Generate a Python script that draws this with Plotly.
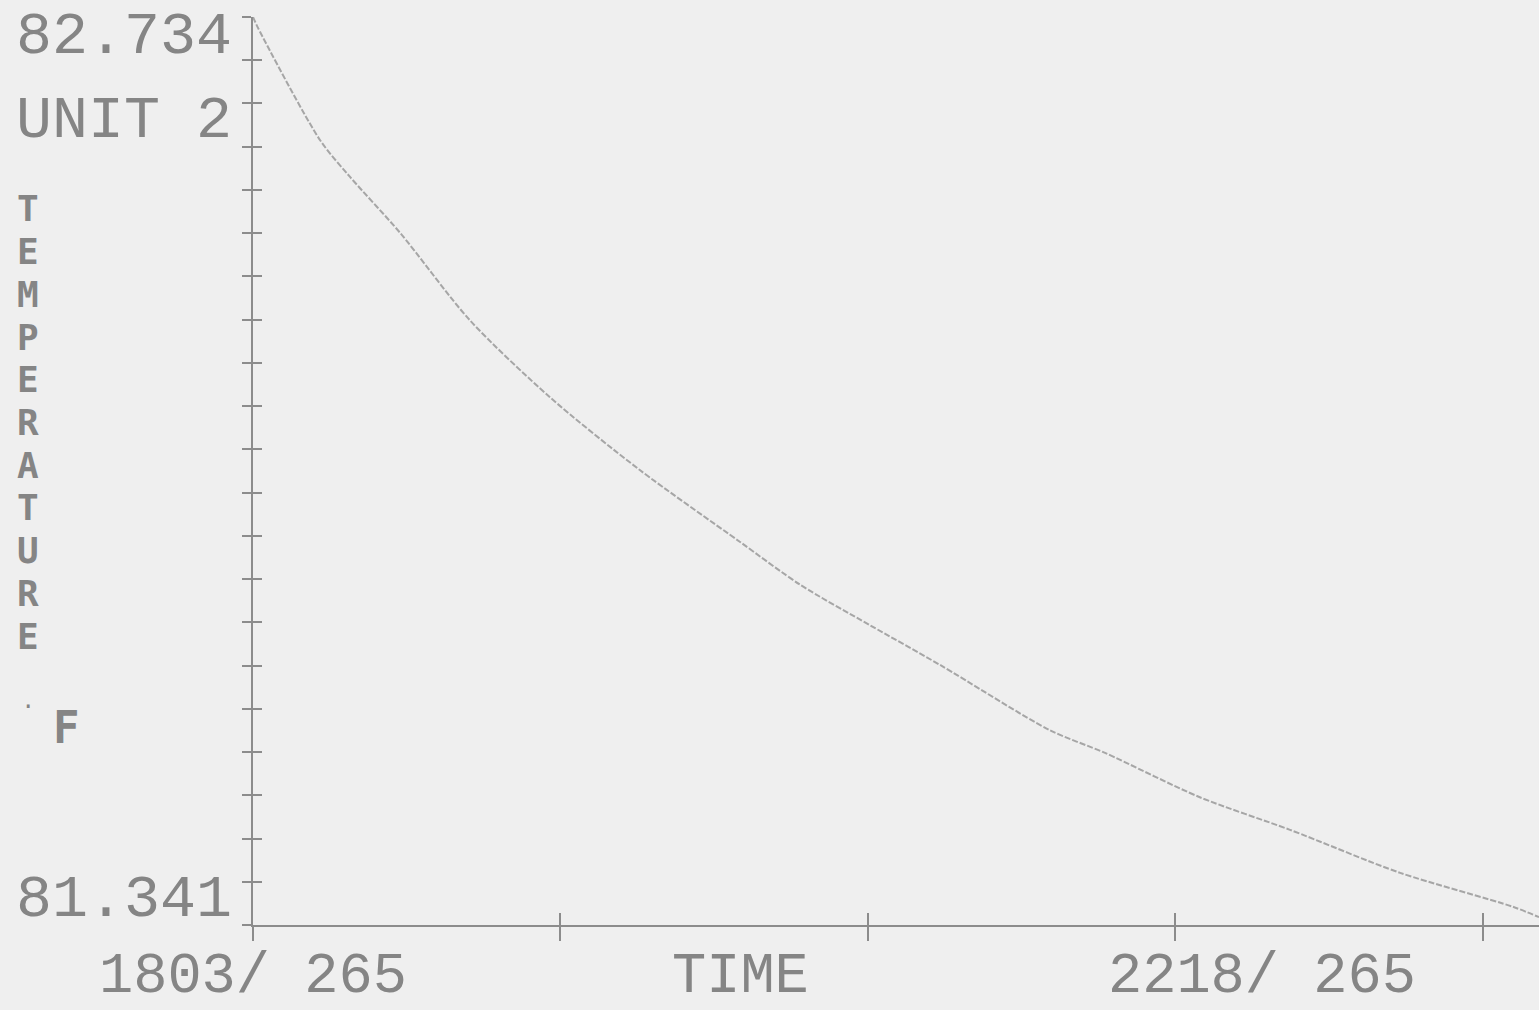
import plotly.graph_objects as go

# Elapsed minutes since 18:03 on day 265, and the temperature reading (deg F)
minutes = [0, 1.0, 13.1, 18.9, 28.7, 42.3, 57.9, 75.5, 95.0, 106.8, 120.4,
           134.1, 155.5, 166.3, 184.8, 202.4, 223.9, 245.9, 251.0]
temperature = [82.734, 82.717, 82.545, 82.489, 82.403, 82.269, 82.151, 82.039,
               81.929, 81.863, 81.801, 81.740, 81.640, 81.605, 81.537, 81.487,
               81.421, 81.369, 81.353]

y_min, y_max = 81.341, 82.734
y_divisions = 21
x_max = 251.0
x_tick_step = 60
start_label = "1803/ 265"
end_label = "2218/ 265"
x_title = "TIME"
unit_label = "UNIT 2"
y_title = "TEMPERATURE"

W, H = 1539, 1010
L, R, T, B = 253, 0, 17, 85
plot_w, plot_h = W - L - R, H - T - B

BG = "#efefef"
INK = "#858585"
AXIS = "#8c8c8c"
CURVE = "#a6a6a6"
FONT = "Liberation Mono, DejaVu Sans Mono, monospace"
TITLE_FONT = "DejaVu Sans Mono, Liberation Mono, monospace"


def px_x(px):
    return (px - L) / plot_w


def px_y(py):
    return (H - B - py) / plot_h


y_step = (y_max - y_min) / y_divisions

fig = go.Figure()
fig.add_trace(go.Scatter(
    x=minutes, y=temperature, mode="lines",
    line=dict(color=CURVE, width=2, dash="6px,2px", shape="spline",
              smoothing=0.8),
    hoverinfo="skip", showlegend=False,
))
# same series on the overlay axes that carry the inward half of each tick
fig.add_trace(go.Scatter(
    x=minutes, y=temperature, mode="lines", xaxis="x2", yaxis="y2",
    line=dict(width=0), opacity=0, hoverinfo="skip", showlegend=False,
))

axis_common = dict(showgrid=False, zeroline=False, showticklabels=False,
                   tickcolor=AXIS, tickwidth=2)
fig.update_layout(
    width=W, height=H,
    margin=dict(l=L, r=R, t=T, b=B, pad=0),
    paper_bgcolor=BG, plot_bgcolor=BG,
    showlegend=False,
    xaxis=dict(range=[0, x_max], tick0=0, dtick=x_tick_step, ticks="outside",
               ticklen=14, showline=True, linecolor=AXIS, linewidth=2,
               **axis_common),
    yaxis=dict(range=[y_min, y_max], tick0=y_min, dtick=y_step, ticks="outside",
               ticklen=9, showline=True, linecolor=AXIS, linewidth=2,
               **axis_common),
    xaxis2=dict(range=[0, x_max], tick0=0, dtick=x_tick_step, ticks="inside",
                ticklen=12, overlaying="x", showline=False, **axis_common),
    yaxis2=dict(range=[y_min, y_max], tick0=y_min, dtick=y_step, ticks="inside",
                ticklen=9, overlaying="y", showline=False, **axis_common),
)

big = dict(family=FONT, size=60, color=INK)
bottom = dict(family=FONT, size=57, color=INK)
letter = dict(family=TITLE_FONT, size=36, color=INK, weight="bold")

annotations = [
    dict(text=f"{y_max:.3f}", xref="paper", yref="y", x=px_x(234), y=y_max,
         xanchor="right", yanchor="middle", yshift=-20, font=big),
    dict(text=f"{y_min:.3f}", xref="paper", yref="y", x=px_x(234), y=y_min,
         xanchor="right", yanchor="middle", yshift=25, font=big),
    dict(text=unit_label, xref="paper", yref="paper", x=px_x(234), y=px_y(121),
         xanchor="right", yanchor="middle", font=big),
    dict(text=start_label, xref="x", yref="paper", x=0, y=px_y(977),
         xanchor="center", yanchor="middle", font=bottom),
    dict(text=x_title, xref="paper", yref="paper", x=px_x(740), y=px_y(977),
         xanchor="center", yanchor="middle", font=bottom),
    dict(text=end_label, xref="paper", yref="paper", x=px_x(1262), y=px_y(977),
         xanchor="center", yanchor="middle", font=bottom),
    dict(text="F", xref="paper", yref="paper", x=px_x(66), y=px_y(727),
         xanchor="center", yanchor="middle",
         font=dict(family=TITLE_FONT, size=44, color=INK, weight="bold")),
    dict(text="\u00b7", xref="paper", yref="paper", x=px_x(28), y=px_y(706),
         xanchor="center", yanchor="middle",
         font=dict(family=FONT, size=24, color=INK)),
]

# vertical axis title, one stacked letter per row
row_top, row_step = 209, 42.7
for i, ch in enumerate(y_title):
    annotations.append(dict(
        text=ch, xref="paper", yref="paper", x=px_x(28),
        y=px_y(row_top + i * row_step), xanchor="center", yanchor="middle",
        font=letter,
    ))

for a in annotations:
    a["showarrow"] = False
fig.update_layout(annotations=annotations)

fig.write_html("out.html")
